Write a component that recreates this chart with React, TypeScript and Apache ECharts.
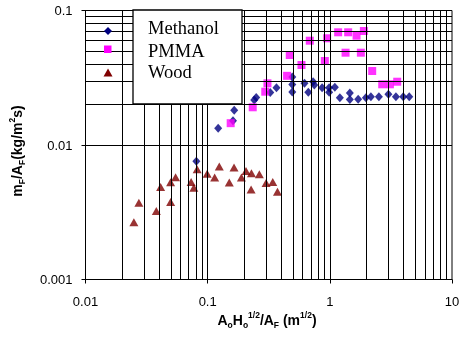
import React, { useEffect, useRef } from 'react';
import * as echarts from 'echarts';

const methanolX = [0.0808, 0.1219, 0.1612, 0.1649, 0.2405, 0.2497, 0.3253, 0.3658, 0.4928, 0.4928, 0.4928, 0.6203, 0.6664, 0.7297, 0.7464, 0.8647, 0.987, 0.987, 1.099, 1.208, 1.458, 1.458, 1.706, 1.973, 2.168, 2.521, 3.017, 3.475, 3.989, 4.467];
const methanolY = [0.00757, 0.01331, 0.01516, 0.01815, 0.02161, 0.02255, 0.02457, 0.02667, 0.03202, 0.02817, 0.02478, 0.02875, 0.02466, 0.02955, 0.02793, 0.02667, 0.02667, 0.02466, 0.02685, 0.02243, 0.02435, 0.0218, 0.02185, 0.02247, 0.02282, 0.02282, 0.02382, 0.02282, 0.02282, 0.02282];

const pmmaX = [0.1543, 0.2338, 0.2961, 0.3086, 0.4467, 0.4699, 0.5861, 0.6855, 0.9099, 0.9504, 1.1696, 1.345, 1.4125, 1.655, 1.795, 1.899, 2.222, 2.684, 3.103, 3.561];
const pmmaY = [0.01453, 0.01907, 0.02491, 0.02875, 0.03268, 0.04668, 0.03934, 0.05964, 0.04212, 0.06214, 0.06885, 0.04856, 0.06885, 0.06497, 0.04856, 0.07041, 0.03549, 0.02827, 0.02827, 0.02955];

const woodX = [0.02488, 0.02734, 0.03798, 0.04119, 0.04973, 0.04973, 0.05465, 0.07323, 0.07705, 0.08203, 0.09906, 0.1141, 0.1245, 0.1503, 0.1643, 0.1889, 0.206, 0.2268, 0.2282, 0.2649, 0.3006, 0.341, 0.3726];
const woodY = [0.002667, 0.003724, 0.00323, 0.004872, 0.003769, 0.005289, 0.005753, 0.005308, 0.004814, 0.006609, 0.00612, 0.005733, 0.006933, 0.005262, 0.006804, 0.005733, 0.006408, 0.004661, 0.006162, 0.006057, 0.005218, 0.005308, 0.004496];

const seriesNames = ['Methanol', 'PMMA', 'Wood'];
const xTickLabels = ['0.01', '0.1', '1', '10'];
const yTickLabels = ['0.001', '0.01', '0.1'];
const xGridValues = [0.02, 0.03, 0.04, 0.05, 0.06, 0.07, 0.08, 0.09, 0.1, 0.2, 0.3, 0.4, 0.5, 0.6, 0.7, 0.8, 0.9, 1, 2, 3, 4, 5, 6, 7, 8, 9];
const yGridValues = [0.002, 0.003, 0.004, 0.005, 0.006, 0.007, 0.008, 0.009, 0.01, 0.02, 0.03, 0.04, 0.05, 0.06, 0.07, 0.08, 0.09];

const SANS = '"Liberation Sans", Arial, sans-serif';
const SERIF = '"Liberation Serif", "Times New Roman", serif';

const zip = (xs: number[], ys: number[]) => xs.map((x, i) => [x, ys[i]]);

export default function App() {
  const ref = useRef<HTMLDivElement>(null);
  useEffect(() => {
    const chart = echarts.init(ref.current!, null, { renderer: 'svg' });
    const labelFor = (labels: string[], minExp: number) => (v: number) => {
      const e = Math.round(Math.log10(v));
      return labels[e - minExp] ?? '';
    };
    const richTitle = {
      b: { fontSize: 14, fontWeight: 'bold', fontFamily: SANS, fill: '#000', lineHeight: 19 },
      s: { fontSize: 8.5, fontWeight: 'bold', fontFamily: SANS, fill: '#000', verticalAlign: 'bottom' },
      p: { fontSize: 8.5, fontWeight: 'bold', fontFamily: SANS, fill: '#000', verticalAlign: 'top' },
    };
    const option: any = {
      animation: false,
      grid: { left: 85.5, right: 16, top: 10.5, bottom: 65.5, show: true, borderColor: '#000', borderWidth: 1, backgroundColor: 'transparent' },
      xAxis: {
        type: 'log', logBase: 10, min: 0.01, max: 10,
        axisLine: { show: true, lineStyle: { color: '#000', width: 1 } },
        axisTick: { show: true, inside: false, length: 4, lineStyle: { color: '#000' } },
        splitLine: { show: false },
        axisLabel: { color: '#000', fontFamily: SANS, fontSize: 13, margin: 15, formatter: labelFor(xTickLabels, -2) },
      },
      yAxis: {
        type: 'log', logBase: 10, min: 0.001, max: 0.1,
        axisLine: { show: true, lineStyle: { color: '#000', width: 1 } },
        axisTick: { show: true, inside: false, length: 4, lineStyle: { color: '#000' } },
        splitLine: { show: false },
        axisLabel: { color: '#000', fontFamily: SANS, fontSize: 13, margin: 13, formatter: labelFor(yTickLabels, -3) },
      },
      series: [
        {
          type: 'scatter', name: 'grid', data: [], z: 1, silent: true,
          markLine: {
            silent: true, symbol: ['none', 'none'], label: { show: false },
            lineStyle: { color: '#000', width: 1, type: 'solid' },
            emphasis: { disabled: true },
            data: [
              ...xGridValues.map((v) => ({ xAxis: v })),
              ...yGridValues.map((v) => ({ yAxis: v })),
            ],
          },
        },
        { type: 'scatter', name: seriesNames[0], data: zip(methanolX, methanolY), symbol: 'diamond', symbolSize: [8, 9], itemStyle: { color: '#000080' }, z: 3 },
        { type: 'scatter', name: seriesNames[1], data: zip(pmmaX, pmmaY), symbol: 'rect', symbolSize: 8, itemStyle: { color: '#FF00FF' }, z: 4 },
        { type: 'scatter', name: seriesNames[2], data: zip(woodX, woodY), symbol: 'triangle', symbolSize: [9, 8], itemStyle: { color: '#800000' }, z: 3 },
      ],
      graphic: [
        {
          type: 'rect', shape: { x: 133, y: 10, width: 109, height: 94 }, z: 10,
          style: { fill: '#fff', stroke: '#000', lineWidth: 1.3 },
        },
        { type: 'text', x: 148, y: 28, z: 11, style: { text: seriesNames[0], font: `18.5px ${SERIF}`, fill: '#000', verticalAlign: 'middle' } },
        { type: 'text', x: 148, y: 51, z: 11, style: { text: seriesNames[1], font: `18.5px ${SERIF}`, fill: '#000', verticalAlign: 'middle' } },
        { type: 'text', x: 148, y: 72, z: 11, style: { text: seriesNames[2], font: `18.5px ${SERIF}`, fill: '#000', verticalAlign: 'middle' } },
        { type: 'polygon', z: 11, shape: { points: [[108, 27], [112, 31], [108, 35], [104, 31]] }, style: { fill: '#000080' } },
        { type: 'rect', z: 11, shape: { x: 104, y: 45.5, width: 7.5, height: 7.5 }, style: { fill: '#FF00FF' } },
        { type: 'polygon', z: 11, shape: { points: [[108, 68.5], [112.5, 76.5], [103.5, 76.5]] }, style: { fill: '#800000' } },
        {
          type: 'text', x: 267, y: 320, z: 11,
          style: { text: '{b|A}{s|o}{b|H}{s|o}{p|1/2}{b|/A}{s|F}{b| (m}{p|1/2}{b|)}', rich: richTitle, align: 'center', verticalAlign: 'middle' },
        },
        {
          type: 'text', x: 17, y: 151, rotation: Math.PI / 2, z: 11,
          style: { text: '{b|m}{s|F}{b|/A}{s|F}{b|(kg/m}{p|2}{b|s)}', rich: richTitle, align: 'center', verticalAlign: 'middle' },
        },
      ],
    };
    chart.setOption(option);
    return () => chart.dispose();
  }, []);
  return <div ref={ref} style={{ position: 'fixed', left: 0, top: 0, width: 468, height: 345 }} />;
}
